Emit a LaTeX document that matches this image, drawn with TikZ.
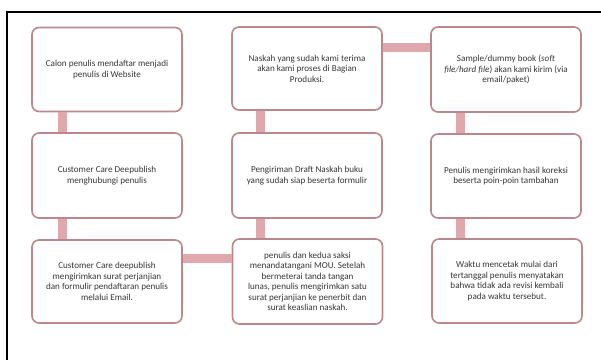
\documentclass[tikz,border=0pt]{standalone}
\usepackage{fontspec}
\setmainfont{Carlito}
\begin{document}
\begin{tikzpicture}[x=1pt,y=-1pt,
  stepbox/.style={draw={rgb,255:red,185;green,135;blue,140}, line width=1.6pt,
    rounded corners=7pt, fill=white, minimum width=150pt, minimum height=84pt,
    align=center, text={rgb,255:red,55;green,55;blue,55},
    font=\fontsize{9.1}{10.5}\selectfont, inner sep=1pt},
  bar/.style={draw={rgb,255:red,222;green,168;blue,172}, line width=9pt}]
\useasboundingbox (0,0) rectangle (601,360);
\fill[white] (0,0) rectangle (601,360);
\draw[black, line width=1.2pt] (7,360) -- (7,12) -- (601,12);
% column 1
\node[stepbox, minimum height=84pt] (b1) at (107,69.5) {Calon penulis mendaftar menjadi\\penulis di Website};
\node[stepbox, minimum height=85pt] (b2) at (107,175.5) {Customer Care Deepublish\\menghubungi penulis};
\node[stepbox, minimum height=83pt] (b3) at (107,281.5) {Customer Care deepublish\\mengirimkan surat perjanjian\\dan formulir pendaftaran penulis\\melalui Email.};
% column 2
\node[stepbox, minimum height=85pt] (b4) at (307.5,281.5) {penulis dan kedua saksi\\menandatangani MOU. Setelah\\bermeterai tanda tangan\\lunas, penulis mengirimkan satu\\surat perjanjian ke penerbit dan\\surat keaslian naskah.};
\node[stepbox, minimum height=85pt] (b5) at (307,175.5) {Pengiriman Draft Naskah buku\\yang sudah siap beserta formulir};
\node[stepbox, minimum height=83pt] (b6) at (307,68.5) {Naskah yang sudah kami terima\\akan kami proses di Bagian\\Produksi.};
% column 3
\node[stepbox, minimum height=85pt] (b7) at (506,69.5) {Sample/dummy book (\textit{soft}\\\textit{file/hard file}) akan kami kirim (via\\email/paket)};
\node[stepbox, minimum height=84pt] (b8) at (506,176) {Penulis mengirimkan hasil koreksi\\beserta poin-poin tambahan};
\node[stepbox, minimum height=84pt] (b9) at (507,281) {Waktu mencetak mulai dari\\tertanggal penulis menyatakan\\bahwa tidak ada revisi kembali\\pada waktu tersebut.};
% connectors
\draw[bar] ([xshift=-45pt]b1.south) -- ([xshift=-45pt]b2.north);
\draw[bar] ([xshift=-45pt]b2.south) -- ([xshift=-45pt]b3.north);
\draw[bar] ([yshift=23pt]b3.east) -- ([yshift=23pt]b3.east -| b4.west);
\draw[bar] ([xshift=-47.5pt]b4.north) -- ([xshift=-47pt]b5.south);
\draw[bar] ([xshift=-47pt]b5.north) -- ([xshift=-47pt]b6.south);
\draw[bar] ([yshift=21pt]b6.east) -- ([yshift=21pt]b6.east -| b7.west);
\draw[bar] ([xshift=-46pt]b7.south) -- ([xshift=-46pt]b8.north);
\draw[bar] ([xshift=-46pt]b8.south) -- ([xshift=-47pt]b9.north);
\end{tikzpicture}
\end{document}
